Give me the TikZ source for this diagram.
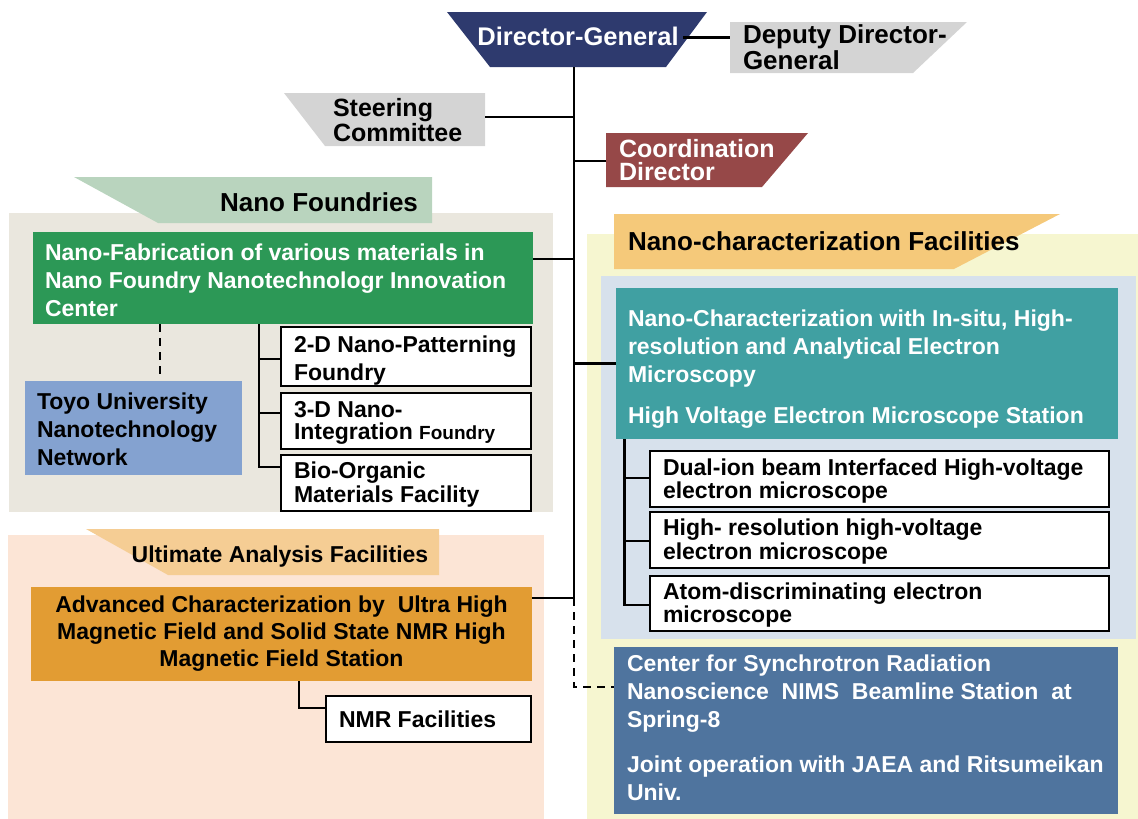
\documentclass[tikz,border=0pt]{standalone}
\usepackage{fontspec}
\setmainfont{Liberation Sans}
\usetikzlibrary{calc}
\definecolor{dgblue}{RGB}{46,58,110}
\definecolor{lgray}{RGB}{212,212,212}
\definecolor{coordred}{RGB}{150,72,72}
\definecolor{nfbgc}{RGB}{234,231,222}
\definecolor{nfhead}{RGB}{185,212,190}
\definecolor{nfgreen}{RGB}{44,152,86}
\definecolor{toyoblue}{RGB}{132,162,208}
\definecolor{uabgc}{RGB}{252,229,214}
\definecolor{uahead}{RGB}{245,205,148}
\definecolor{uaorange}{RGB}{226,156,51}
\definecolor{ncbgc}{RGB}{246,246,208}
\definecolor{nchead}{RGB}{245,201,122}
\definecolor{ncinner}{RGB}{215,225,236}
\definecolor{ncteal}{RGB}{64,160,162}
\definecolor{spblue}{RGB}{79,116,158}
\newcommand\areanode[6]{\node[#2,minimum width={#5-#3},minimum height={#6-#4},anchor=north west] (#1) at (#3,#4) {};}
\begin{document}
\begin{tikzpicture}[x=1pt,y=-1pt,
  area/.style={draw=none,inner sep=0pt,outer sep=0pt},
  wbox/.style={draw=black,line width=2.5pt,fill=white,inner sep=0pt,outer sep=0pt},
  conn/.style={line width=2.2pt,black},
  dconn/.style={conn,dash pattern=on 8pt off 6pt},
  txt/.style={inner sep=0pt,outer sep=0pt,align=left,anchor=base west},
  f23/.style={font=\fontsize{23}{28}\selectfont\bfseries},
  f25/.style={font=\fontsize{25}{25}\selectfont\bfseries},
  f26/.style={font=\fontsize{26}{28}\selectfont\bfseries},
]
\useasboundingbox (0,0) rectangle (1138,819);
% section backgrounds
\areanode{secNF}{area,fill=nfbgc}{9}{213}{553}{512}
\areanode{secUA}{area,fill=uabgc}{8}{535}{544}{819}
\areanode{secNC}{area,fill=ncbgc}{587}{234}{1138}{819}
\areanode{secNCin}{area,fill=ncinner}{601}{276}{1136}{639}
% section headers
\fill[nfhead] (74,177) -- (432,177) -- (432,223) -- (158,223) -- cycle;
\fill[uahead] (86,529) -- (439,529) -- (439,575) -- (168,575) -- cycle;
\fill[nchead] (614,214) -- (1060,214) -- (954,269) -- (614,269) -- cycle;
% top shapes
\areanode{dg}{area}{447}{12}{707}{67}
\areanode{dep}{area}{730}{22}{967}{73}
\areanode{steer}{area}{284}{93}{485}{146}
\areanode{coord}{area}{606}{133}{808}{187}
\fill[dgblue] (447,12) -- (707,12) -- (666,67) -- (490,67) -- cycle;
\fill[lgray] (730,22) -- (967,22) -- (913,73) -- (730,73) -- cycle;
\fill[lgray] (284,93) -- (485,93) -- (485,146) -- (325,146) -- cycle;
\fill[coordred] (606,133) -- (808,133) -- (762,187) -- (606,187) -- cycle;
% spine
\coordinate (spT) at (574,67);
\coordinate (spB) at (574,598);
\coordinate (spE) at (574,687);
% boxes
\areanode{green}{area,fill=nfgreen}{33}{232}{533}{324}
\areanode{toyo}{area,fill=toyoblue}{25}{381}{242}{475}
\areanode{b2d}{wbox}{281}{327}{531}{386}
\areanode{b3d}{wbox}{281}{393}{531}{449}
\areanode{bbio}{wbox}{281}{455}{531}{511}
\areanode{orange}{area,fill=uaorange}{31}{587}{532}{681}
\areanode{nmr}{wbox}{326}{696}{531}{742}
\areanode{teal}{area,fill=ncteal}{616}{288}{1118}{439}
\areanode{dual}{wbox}{650}{451}{1109}{507}
\areanode{hres}{wbox}{650}{512}{1109}{568}
\areanode{atom}{wbox}{650}{576}{1109}{631}
\areanode{sync}{area,fill=spblue}{614}{647}{1118}{814}
% connectors
\draw[conn] (dg.south -| spT) -- (spB);
\draw[dconn] (spB) -- (spE) -- (spE -| sync.west);
\draw[conn] ($(dg.north east)+(-24,25.5)$) -- ($(dep.north west)+(0,15.5)$);
\draw[conn] ($(steer.north east)+(0,24)$) coordinate (s1) -- (s1 -| spT);
\draw[conn] ($(coord.north west)+(0,28)$) coordinate (c1) -- (c1 -| spT);
\draw[conn] ($(green.north east)+(0,27)$) coordinate (g1) -- (g1 -| spT);
\draw[conn] (teal.west) -- (teal.west -| spT);
\draw[conn] ($(orange.north east)+(0,11)$) coordinate (o1) -- (o1 -| spT);
\draw[dconn] (green.south -| 160,0) -- ($(toyo.north -| 160,0)+(0,-7)$);
\draw[conn] (green.south -| 259,0) -- ($(bbio.north west -| 259,0)+(0,12)$) -- ($(bbio.north west)+(0,12)$);
\draw[conn] ($(b2d.north west)+(0,32)$) coordinate (t2) -- (t2 -| 259,0);
\draw[conn] ($(b3d.north west)+(0,20)$) coordinate (t3) -- (t3 -| 259,0);
\draw[conn] (orange.south -| 299,0) -- ($(nmr.north west -| 299,0)+(0,12)$) -- ($(nmr.north west)+(0,12)$);
\draw[conn] (teal.south -| 624.5,0) -- ($(atom.north west -| 624.5,0)+(0,29)$) -- ($(atom.north west)+(0,29)$);
\draw[conn] ($(dual.north west)+(0,27)$) coordinate (d1) -- (d1 -| 624.5,0);
\draw[conn] ($(hres.north west)+(0,29)$) coordinate (h1) -- (h1 -| 624.5,0);
% texts (anchor = baseline of last line)
\node[txt,font=\fontsize{25.5}{25}\selectfont\bfseries,anchor=base,white] (dgt) at (578,45) {Director-General};
\node[txt,font=\fontsize{26}{23}\selectfont\bfseries] (dept) at (743,69) {Deputy Director-\\General};
\node[txt,f25] (steert) at (333,141) {Steering\\Committee};
\node[txt,font=\fontsize{25}{23}\selectfont\bfseries,white] (coordt) at (619,180) {Coordination\\Director};
\node[txt,f26,anchor=base] (nft) at (319,211) {Nano Foundries};
\node[txt,f23,white] (greent) at (45,316) {Nano-Fabrication of various materials in\\Nano Foundry Nanotechnologr Innovation\\Center};
\node[txt,f23] (toyot) at (37,465) {Toyo University\\Nanotechnology\\Network};
\node[txt,f23] (b2dt) at (294,380) {2-D Nano-Patterning\\Foundry};
\node[txt,font=\fontsize{23}{22}\selectfont\bfseries] (b3dt) at (294,439) {3-D Nano-\\Integration {\fontsize{19}{22}\selectfont Foundry}};
\node[txt,font=\fontsize{23}{24}\selectfont\bfseries] (bbiot) at (294,502) {Bio-Organic\\Materials Facility};
\node[txt,f23,anchor=base] (uat) at (280,562) {Ultimate Analysis Facilities};
\node[txt,font=\fontsize{23}{27}\selectfont\bfseries,align=center,anchor=base] (oranget) at (281.5,666) {Advanced Characterization by\ \ Ultra High\\Magnetic Field and Solid State NMR High\\Magnetic Field Station};
\node[txt,f23] (nmrt) at (339,727) {NMR Facilities};
\node[txt,f26] (nct) at (628,250) {Nano-characterization Facilities};
\node[txt,f23,white] (tealt) at (628,423) {Nano-Characterization with In-situ, High-\\resolution and Analytical Electron\\Microscopy\\[13pt]High Voltage Electron Microscope Station};
\node[txt,font=\fontsize{23}{23}\selectfont\bfseries] (dualt) at (663,498) {Dual-ion beam Interfaced High-voltage\\electron microscope};
\node[txt,font=\fontsize{23}{24}\selectfont\bfseries] (hrest) at (663,559) {High- resolution high-voltage\\electron microscope};
\node[txt,font=\fontsize{23}{23}\selectfont\bfseries] (atomt) at (663,622) {Atom-discriminating electron\\microscope};
\node[txt,f23,white] (synct) at (627,800) {Center for Synchrotron Radiation\\Nanoscience\ \ NIMS\ \ Beamline Station\ \ at\\Spring-8\\[17pt]Joint operation with JAEA and Ritsumeikan\\Univ.};
\end{tikzpicture}
\end{document}
